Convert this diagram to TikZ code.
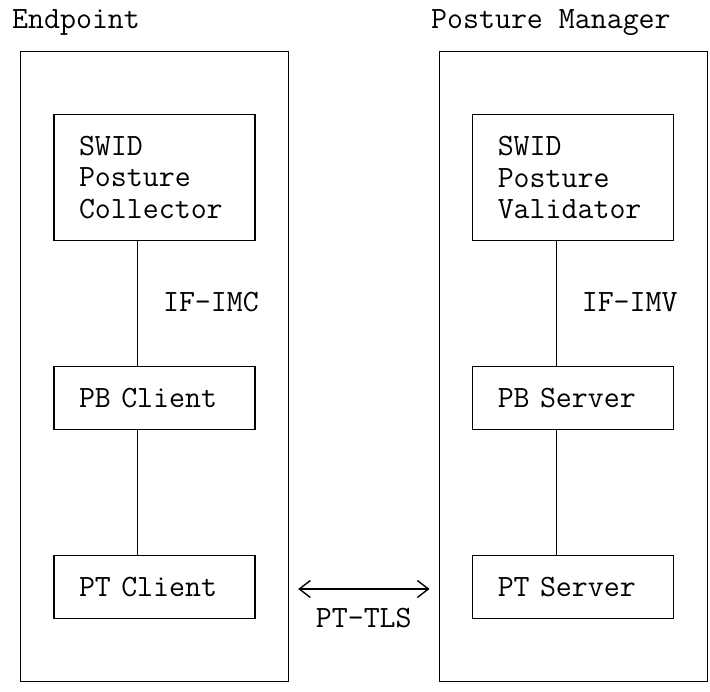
\documentclass[tikz,border=0pt]{standalone}
\usepackage{fontspec}
\usepackage{tikz}
\usetikzlibrary{arrows.meta}

\begin{document}
\begin{tikzpicture}[x=1pt,y=-1pt,font=\ttfamily\fontsize{31pt}{31.5pt}\selectfont]
\tikzstyle{hostbox}=[rectangle,draw,line width=1.4pt,minimum width=268pt,minimum height=630pt,inner sep=0pt]
\tikzstyle{compbox}=[rectangle,draw,line width=1.4pt,minimum width=201pt,inner xsep=25pt,inner ysep=0pt,text width=151pt,align=left]
\tikzstyle{lbl}=[anchor=base west,inner sep=0pt]
\tikzstyle{link}=[line width=1.4pt]

\useasboundingbox (0,0) rectangle (710,692);

\node [hostbox] (EP) at (154.5,366.5) {};
\node [hostbox] (PM) at (573.25,366.5) {};
\node [lbl] (EPname) at (12,28.5) {Endpoint};
\node [lbl] (PMname) at (431,28.5) {Posture Manager};

\node [compbox, minimum height=126pt] (SWC) at (154.5,177.5) {SWID\\Posture\\Collector};
\node [compbox, minimum height=63pt] (PBC) at (154.5,398) {PB Client};
\node [compbox, minimum height=63pt] (PTC) at (154.5,587) {PT Client};

\node [compbox, minimum height=126pt] (SWV) at (573.25,177.5) {SWID\\Posture\\Validator};
\node [compbox, minimum height=63pt] (PBS) at (573.25,398) {PB Server};
\node [compbox, minimum height=63pt] (PTS) at (573.25,587) {PT Server};

\draw [link] ([xshift=-16.75pt]SWC.south) -- ([xshift=-16.75pt]PBC.north);
\draw [link] ([xshift=-16.75pt]PBC.south) -- ([xshift=-16.75pt]PTC.north);
\draw [link] ([xshift=-16.75pt]SWV.south) -- ([xshift=-16.75pt]PBS.north);
\draw [link] ([xshift=-16.75pt]PBS.south) -- ([xshift=-16.75pt]PTS.north);

\node [lbl] (IFIMC) at (162.85,312) {IF-IMC};
\node [lbl] (IFIMV) at (581.6,312) {IF-IMV};

\draw [link,{Straight Barb[length=11pt,width=17pt]}-{Straight Barb[length=11pt,width=17pt]},shorten <=9pt,shorten >=9pt] ([yshift=-2pt]EP.east |- PTC) -- ([yshift=-2pt]PM.west |- PTS);
\node [anchor=base,inner sep=0pt] (TLS) at (363.75,627) {PT-TLS};

\end{tikzpicture}
\end{document}
